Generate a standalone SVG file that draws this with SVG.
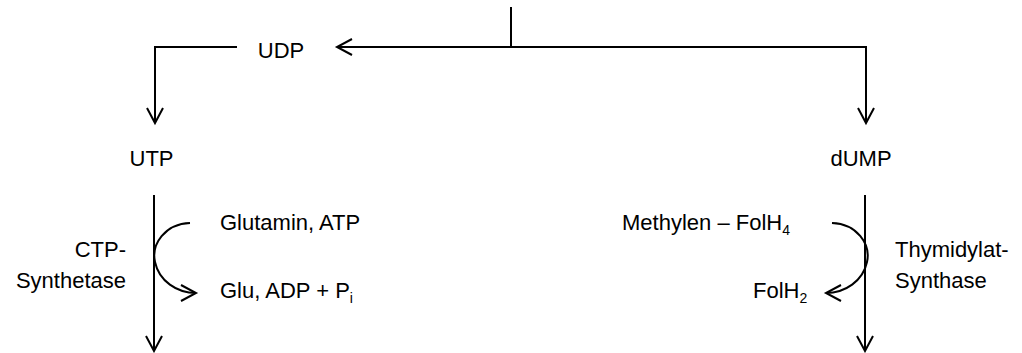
<svg xmlns="http://www.w3.org/2000/svg" width="1022" height="353" viewBox="0 0 1022 353">
<style>
text{font-family:"Liberation Sans",Arial,sans-serif;font-size:22px;fill:#000}
.sub{font-size:14px}
.c{fill:none;stroke:#000;stroke-width:2}
</style>
<defs>
<marker id="ah" markerUnits="userSpaceOnUse" markerWidth="24" markerHeight="24" viewBox="-18 -12 24 24" refX="0" refY="0" orient="auto" overflow="visible">
<path d="M-15,-8 L0,0 L-15,8" fill="none" stroke="#000" stroke-width="2"/>
</marker>
</defs>
<rect width="1022" height="353" fill="#fff"/>
<g id="connectors">
<path class="c" d="M511,7 V47"/>
<path class="c" d="M511,47 H337" marker-end="url(#ah)"/>
<path class="c" d="M511,47 H866 V123" marker-end="url(#ah)"/>
<path class="c" d="M237,47 H155 V123" marker-end="url(#ah)"/>
<path class="c" d="M154,195 V351" marker-end="url(#ah)"/>
<path class="c" d="M865,195 V351" marker-end="url(#ah)"/>
<path class="c" d="M190,223 C165,224 151,244 155,262 C159,281 177,293 196,293" marker-end="url(#ah)"/>
<path class="c" d="M832,223 C857,224 871,244 867,262 C863,281 845,293 826,293" marker-end="url(#ah)"/>
</g>
<g id="UDP"><text x="281" y="58" text-anchor="middle">UDP</text></g>
<g id="UTP"><text x="151.5" y="165.5" text-anchor="middle">UTP</text></g>
<g id="dUMP"><text x="861" y="165.5" text-anchor="middle">dUMP</text></g>
<g id="CTP-Synthetase">
<text x="126" y="257" text-anchor="end">CTP-</text>
<text x="126" y="288" text-anchor="end">Synthetase</text>
</g>
<g id="Glutamin"><text x="220" y="230">Glutamin, ATP</text></g>
<g id="Glu"><text x="220" y="298">Glu, ADP + P<tspan class="sub" dy="5">i</tspan></text></g>
<g id="Methylen"><text x="622" y="230">Methylen – FolH<tspan class="sub" dy="5">4</tspan></text></g>
<g id="FolH2"><text x="753" y="298">FolH<tspan class="sub" dy="5">2</tspan></text></g>
<g id="Thymidylat-Synthase">
<text x="895" y="257">Thymidylat-</text>
<text x="895" y="288">Synthase</text>
</g>
</svg>
